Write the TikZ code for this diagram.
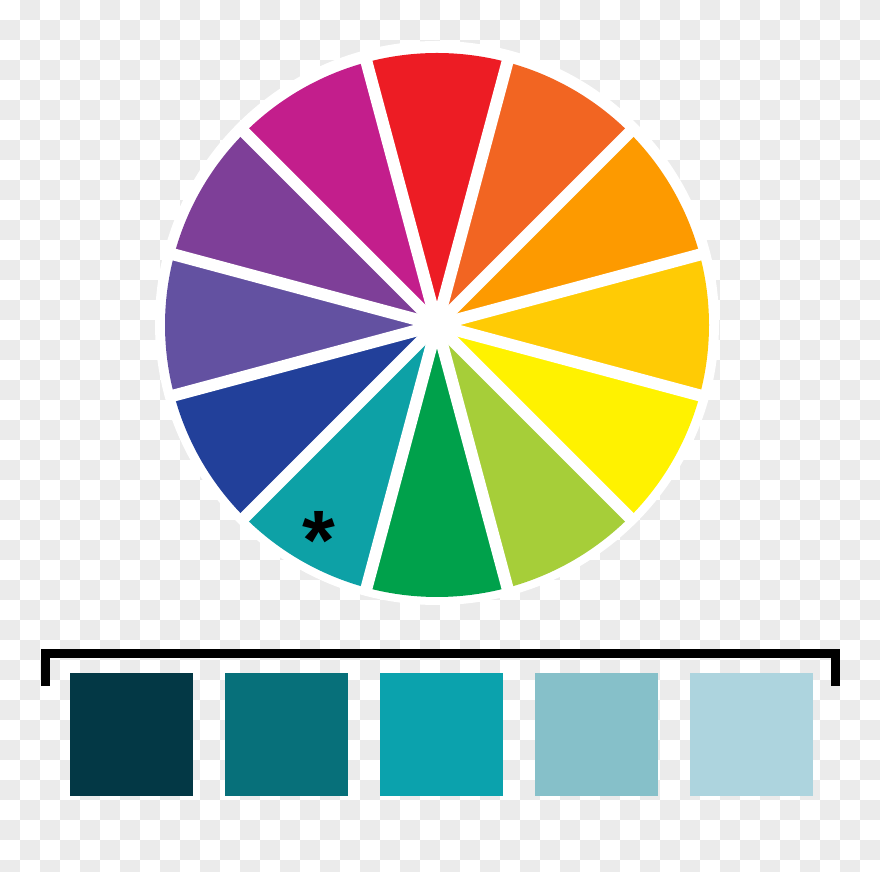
\documentclass[tikz,border=0pt]{standalone}
\usepackage{fontspec}
\setsansfont{Liberation Sans}
\usetikzlibrary{calc}
\definecolor{wRed}{HTML}{ED1C24}
\definecolor{wRedOrange}{HTML}{F26522}
\definecolor{wOrange}{HTML}{FD9A00}
\definecolor{wYellowOrange}{HTML}{FFCB05}
\definecolor{wYellow}{HTML}{FFF200}
\definecolor{wYellowGreen}{HTML}{A6CE39}
\definecolor{wGreen}{HTML}{00A14B}
\definecolor{wTeal}{HTML}{0DA1A6}
\definecolor{wBlue}{HTML}{22409A}
\definecolor{wBlueViolet}{HTML}{6351A1}
\definecolor{wViolet}{HTML}{7E3F98}
\definecolor{wMagenta}{HTML}{C31E8C}
\definecolor{shadeA}{HTML}{033845}
\definecolor{shadeB}{HTML}{07707A}
\definecolor{shadeC}{HTML}{0BA2AD}
\definecolor{shadeD}{HTML}{86C0C9}
\definecolor{shadeE}{HTML}{ADD4DE}
\definecolor{checker}{HTML}{EBEBEB}
\begin{document}
\begin{tikzpicture}[
      x=0.025cm, y=0.025cm,
      font=\sffamily,
      checkbox/.style={fill=checker},
      gap/.style={draw=white, line width=0.3cm, line cap=butt},
      swatch/.style={minimum width=3.075cm, minimum height=3.075cm, inner sep=0pt},
      bracket/.style={draw=black, line width=0.225cm, line cap=butt, line join=miter},
      asterisk/.style={inner sep=0pt, font=\sffamily\bfseries\fontsize{60}{60}\selectfont}
    ]
      \useasboundingbox (0, 0) rectangle (880, 872);
      \fill[white] (0, 0) rectangle (880, 872);
      \begin{scope}
        \clip (0, 0) rectangle (880, 872);
        \foreach \col in {0,...,43} {
          \foreach \row in {0,...,43} {
            \pgfmathparse{int(mod(\col+\row,2))}
            \ifnum\pgfmathresult=1
              \fill[checkbox] (20*\col, 872-20*\row) rectangle ++(20, -20);
            \fi
          }
        }
      \end{scope}

      \coordinate (wheel) at (437, 547);
      \fill[white] (437, 549) circle[radius=282];

      \foreach \ang/\hue in {90/wRed, 60/wRedOrange, 30/wOrange, 0/wYellowOrange,
                             -30/wYellow, -60/wYellowGreen, -90/wGreen, -120/wTeal,
                             -150/wBlue, 180/wBlueViolet, 150/wViolet, 120/wMagenta} {
        \fill[\hue] (wheel) -- +(\ang-15:272)
          arc[start angle=\ang-15, end angle=\ang+15, radius=272] -- cycle;
      }
      \foreach \ang in {15, 45, 75, 105, 135, 165} {
        \draw[gap] ($(wheel)+(\ang:276)$) -- ($(wheel)+(\ang+180:276)$);
      }

      \node[asterisk, anchor=base] (star) at (319, 302) {*};

      \draw[bracket] (45.5, 186) |- (835.5, 218) -- (835.5, 186);

      \foreach \i/\shade in {0/shadeA, 1/shadeB, 2/shadeC, 3/shadeD, 4/shadeE} {
        \node[swatch, fill=\shade] (swatch\i) at (131.5+155*\i, 137.5) {};
      }
    \end{tikzpicture}
\end{document}
